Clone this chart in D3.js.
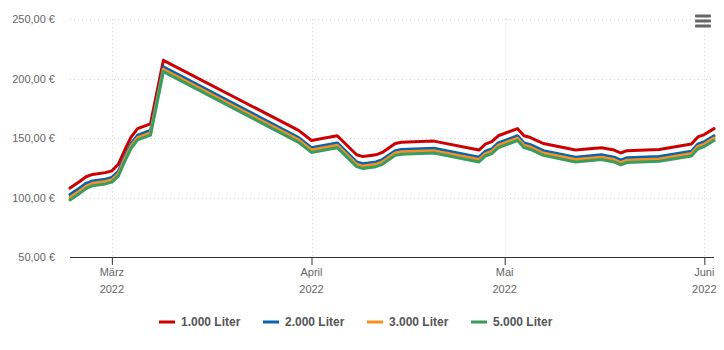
<!DOCTYPE html>
<html>
<head>
<meta charset="utf-8">
<script src="https://cdn.jsdelivr.net/npm/d3@7"></script>
<style>
  html, body { margin: 0; padding: 0; background: #fff; }
  svg { display: block; font-family: "Liberation Sans", Arial, sans-serif; }
</style>
</head>
<body>
<svg id="chart" width="724" height="350"></svg>
<script>
// ---- data ----
const dates = ["2022-02-22T12:00", "2022-02-24T00:00", "2022-02-25T00:00", "2022-02-26T00:00", "2022-02-28T00:00",
  "2022-03-01T00:00", "2022-03-02T00:00", "2022-03-03T00:00", "2022-03-04T00:00", "2022-03-05T00:00",
  "2022-03-07T00:00", "2022-03-09T00:00", "2022-03-30T00:00", "2022-04-01T00:00", "2022-04-02T00:00",
  "2022-04-05T00:00", "2022-04-08T00:00", "2022-04-09T00:00", "2022-04-11T00:00", "2022-04-12T00:00",
  "2022-04-14T00:00", "2022-04-15T00:00", "2022-04-20T00:00", "2022-04-27T00:00", "2022-04-28T00:00",
  "2022-04-29T00:00", "2022-04-30T00:00", "2022-05-03T00:00", "2022-05-04T00:00", "2022-05-05T00:00",
  "2022-05-06T00:00", "2022-05-07T00:00", "2022-05-12T00:00", "2022-05-16T00:00", "2022-05-18T00:00",
  "2022-05-19T00:00", "2022-05-20T00:00", "2022-05-25T00:00", "2022-05-30T00:00", "2022-05-31T00:00",
  "2022-06-01T00:00", "2022-06-02T12:00"];

const liter1000 = [108, 113.5, 117.5, 119.5, 121, 122.5, 128, 140, 151, 158, 162, 215.5, 156.5, 148, 149, 152, 136, 134.5, 136, 138, 145.5, 146.5, 147.5, 140, 145, 147, 152, 158, 152, 150.5, 148, 145.5, 140, 142, 140, 137.5, 139.5, 140.5, 145, 151, 153, 158];
const liter2000 = [102.5, 108, 112, 114, 115.5, 117, 122, 134.5, 145.5, 152.5, 156.5, 210, 150.5, 142, 143, 146, 130, 128.5, 130, 132, 139.5, 140.5, 141.5, 134, 139, 141, 146, 152, 146, 144.5, 142, 139.5, 134, 136, 134, 131.5, 133.5, 134.5, 139, 145, 147, 152];
const liter3000 = [100, 105.5, 109.5, 112, 113.5, 115, 120, 132.5, 143.5, 150.5, 154.5, 208, 148.5, 140, 141, 144, 128, 126.5, 128, 130, 137.5, 138.5, 139.5, 132, 137, 139, 144, 150, 144, 142.5, 140, 137.5, 132, 134, 132, 129.5, 131.5, 132.5, 137, 143, 145, 150];
const liter5000 = [98, 103.5, 107.5, 110, 111.5, 113, 118, 130.5, 141.5, 148.5, 152.5, 206, 146.5, 138, 139, 142, 126, 124.5, 126, 128, 135.5, 136.5, 137.5, 130, 135, 137, 142, 148, 142, 140.5, 138, 135.5, 130, 132, 130, 127.5, 129.5, 130.5, 135, 141, 143, 148];

const seriesNames = ["1.000 Liter", "2.000 Liter", "3.000 Liter", "5.000 Liter"];
const seriesColors = ["#cc0000", "#0b63ad", "#f7901e", "#3b9c60"];
const yTicks = [50, 100, 150, 200, 250];
const monthNames = ["Januar", "Februar", "März", "April", "Mai", "Juni", "Juli", "August", "September", "Oktober", "November", "Dezember"];

// ---- layout ----
const svg = d3.select("#chart");
const pLeft = 70, pRight = 714, pTop = 19.3, pBottom = 257;

const parse = d3.timeParse("%Y-%m-%dT%H:%M");
const xDates = dates.map(parse);
const x = d3.scaleTime().domain(d3.extent(xDates)).range([pLeft, pRight]);
const y = d3.scaleLinear().domain([50, 250]).range([pBottom, pTop]);

const locale = d3.formatLocale({decimal: ",", thousands: ".", grouping: [3], currency: ["", " €"]});
const fmt = locale.format(",.2f");

// gridlines horizontal
svg.append("g").selectAll("line").data(yTicks.filter(d => d !== 50)).join("line")
  .attr("x1", pLeft).attr("x2", pRight)
  .attr("y1", d => Math.round(y(d)) + 0.5).attr("y2", d => Math.round(y(d)) + 0.5)
  .attr("stroke", "#d3d3d3").attr("stroke-dasharray", "1,3");

// month ticks
const monthTicks = x.ticks(d3.timeMonth.every(1)).filter(d => d >= x.domain()[0] && d <= x.domain()[1]);
svg.append("g").selectAll("line").data(monthTicks).join("line")
  .attr("x1", d => Math.round(x(d)) + 0.5).attr("x2", d => Math.round(x(d)) + 0.5)
  .attr("y1", pTop).attr("y2", pBottom)
  .attr("stroke", "#d3d3d3").attr("stroke-dasharray", "1,3");

// y labels
svg.append("g").selectAll("text").data(yTicks).join("text")
  .attr("x", 55).attr("y", d => y(d) + 4)
  .attr("text-anchor", "end").attr("font-size", "11px").attr("fill", "#666")
  .text(d => fmt(d) + " €");

// x axis
const xAxis = d3.axisBottom(x).tickValues(monthTicks).tickSize(8).tickFormat("");
const ax = svg.append("g").attr("transform", `translate(0,${pBottom})`).call(xAxis);
ax.select(".domain").attr("stroke", "#333").attr("d", `M${pLeft},0.5H${pRight}`);
ax.selectAll(".tick line").attr("stroke", "#333");

const xl = svg.append("g").selectAll("g").data(monthTicks).join("g")
  .attr("transform", d => `translate(${x(d)},0)`);
xl.append("text").attr("y", 276).attr("text-anchor", "middle").attr("font-size", "11px").attr("fill", "#666")
  .text(d => monthNames[d.getMonth()]);
xl.append("text").attr("y", 293).attr("text-anchor", "middle").attr("font-size", "11px").attr("fill", "#666")
  .text(d => d.getFullYear());

// lines
const allSeries = [liter1000, liter2000, liter3000, liter5000];
const line = d3.line().x((d, i) => x(xDates[i])).y(d => y(d)).curve(d3.curveLinear);
svg.append("g").selectAll("path").data(allSeries).join("path")
  .attr("d", d => line(d))
  .attr("fill", "none")
  .attr("stroke", (d, i) => seriesColors[i])
  .attr("stroke-width", 3)
  .attr("stroke-linejoin", "round").attr("stroke-linecap", "round");

// legend
const legendX = [159, 263, 367, 471];
const lg = svg.append("g").selectAll("g").data(seriesNames).join("g")
  .attr("transform", (d, i) => `translate(${legendX[i]},322)`);
lg.append("rect").attr("x", 0).attr("y", -1.5).attr("width", 16).attr("height", 3)
  .attr("fill", (d, i) => seriesColors[i]);
lg.append("text").attr("x", 22).attr("y", 4).attr("font-size", "12px").attr("font-weight", "bold")
  .attr("fill", "#555").text(d => d);

// menu icon
svg.append("g").selectAll("rect").data([0, 1, 2]).join("rect")
  .attr("x", 695).attr("y", d => 14.5 + d * 5).attr("width", 16).attr("height", 3)
  .attr("rx", 1).attr("fill", "#666");
</script>
</body>
</html>
